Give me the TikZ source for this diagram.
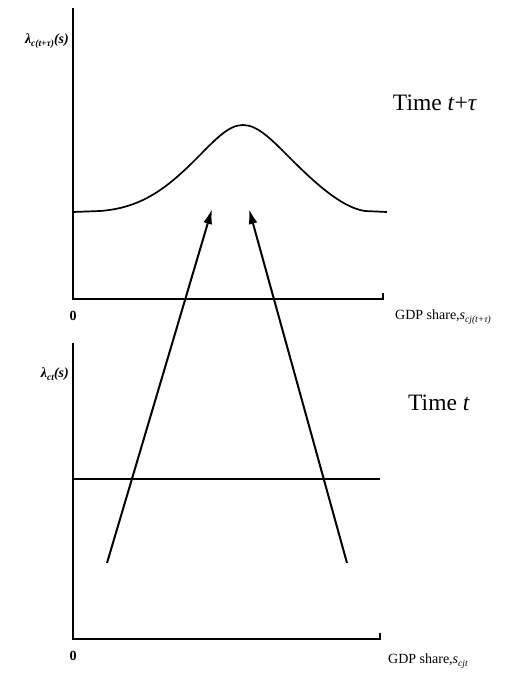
\documentclass[tikz,border=0pt]{standalone}
\usepackage{fontspec}
\setmainfont{Liberation Serif}
\usetikzlibrary{arrows.meta}
\newcommand\lsub[1]{\raisebox{-0.45ex}{\fontsize{9.5}{10}\selectfont\itshape #1}}
\begin{document}
\begin{tikzpicture}[x=1pt,y=-1pt,
  axis/.style={line width=2pt},
  curve/.style={line width=1.7pt},
  arr/.style={line width=2pt,-{Latex[length=15pt,width=9pt]}},
  lab/.style={font=\fontsize{14}{16}\selectfont,inner sep=0pt},
  ttl/.style={font=\fontsize{23.5}{26}\selectfont,inner sep=0pt}]
\useasboundingbox (0,0) rectangle (509,675);
% top panel
\coordinate (ta) at (73,8);
\coordinate (to) at (73,299);
\coordinate (tx) at (383,299);
\draw[axis] (ta) -- (to) -- (tx) -- ++(0,-6);
\node[lab,anchor=east] (tyl) at (69,41) {\textbf{\itshape λ\lsub{c(t+τ)}(s)}};
\node[lab] (t0) at (73,316) {\textbf{0}};
\node[lab,anchor=west] (txl) at (395,317) {GDP share,\textit{s}\lsub{cj(t+τ)}};
\node[ttl] (tt) at (435,103) {Time \textit{t}+\textit{τ}};
\draw[curve] (73,212) -- (100,211) .. controls (140,208) and (165,190) .. (195,160)
  .. controls (215,140) and (228,125) .. (243,125)
  .. controls (258,125) and (272,140) .. (292,160)
  .. controls (322,190) and (345,208) .. (365,211) -- (387,212);
% bottom panel
\coordinate (ba) at (73,343);
\coordinate (bo) at (73,639);
\coordinate (bx) at (380,639);
\draw[axis] (ba) -- (bo) -- (bx) -- ++(0,-6);
\node[lab,anchor=east] (byl) at (69,374) {\textbf{\itshape λ\lsub{ct}(s)}};
\node[lab] (b0) at (73,656) {\textbf{0}};
\node[lab,anchor=west] (bxl) at (388,661) {GDP share,\textit{s}\lsub{cjt}};
\node[ttl] (bt) at (439,403) {Time \textit{t}};
\coordinate (hl) at (73,479);
\coordinate (hr) at (380,479);
\draw[curve] (hl) -- (hr);
% arrows
\coordinate (a1s) at (107,563);
\coordinate (a1e) at (212,209);
\coordinate (a2s) at (347,563);
\coordinate (a2e) at (249,209);
\draw[arr] (a1s) -- (a1e);
\draw[arr] (a2s) -- (a2e);
\end{tikzpicture}
\end{document}
